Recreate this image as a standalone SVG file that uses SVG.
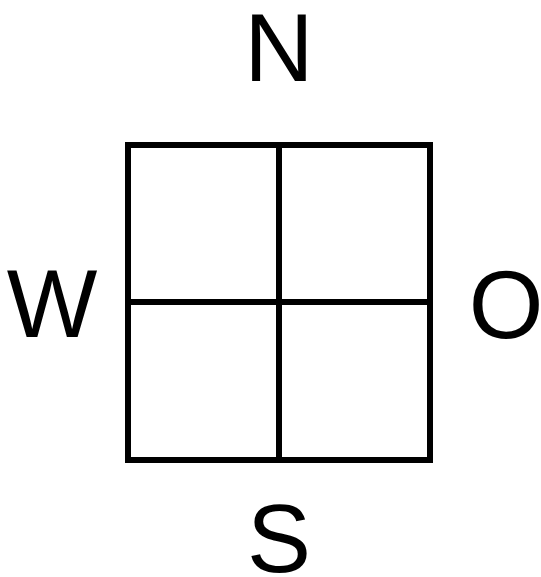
<svg xmlns="http://www.w3.org/2000/svg" width="541" height="577" viewBox="0 0 541 577">
<style>
.g{fill:none;stroke:#000;stroke-width:6}
.t{font-family:"Liberation Sans",Arial,sans-serif;font-size:96px;fill:#000;text-anchor:middle}
</style>
<rect width="541" height="577" fill="#fff"/>
<g id="grid">
<rect class="g" x="128" y="145" width="302" height="315"/>
<line class="g" x1="279" y1="145" x2="279" y2="460"/>
<line class="g" x1="128" y1="302" x2="430" y2="302"/>
</g>
<g id="N"><text class="t" x="279" y="81">N</text></g>
<g id="W"><text class="t" x="52" y="337">W</text></g>
<g id="O"><text class="t" x="506" y="338">O</text></g>
<g id="S"><text class="t" x="279" y="572">S</text></g>
</svg>
